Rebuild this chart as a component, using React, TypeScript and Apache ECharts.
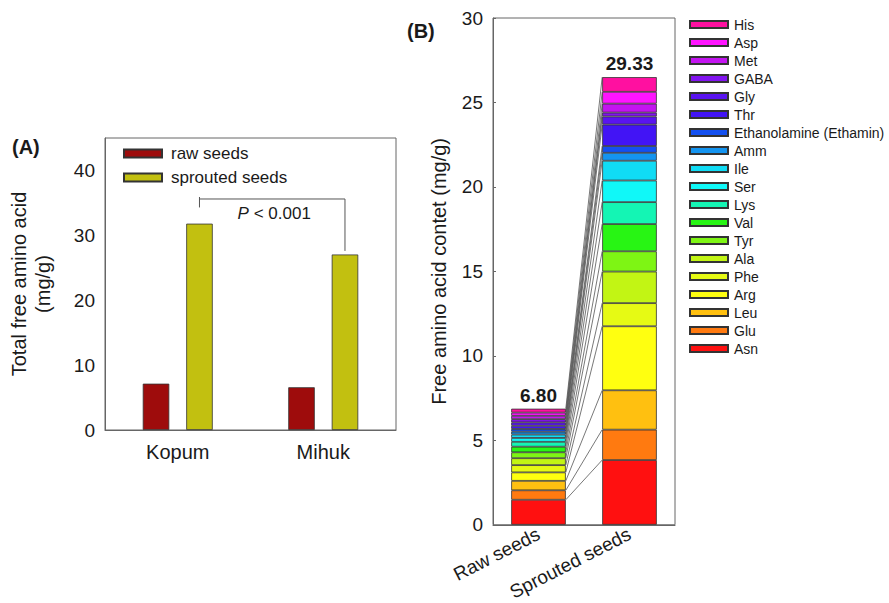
import React, { useEffect, useRef } from "react";
import * as echarts from "echarts";

// ---------- Panel A data ----------
const varieties = ["Kopum", "Mihuk"];
const rawSeeds = [7.14, 6.59];
const sproutedSeeds = [31.8, 27.05];
const bracketLevel = 35.6;
const bracketKopumEnd = 34.3;
const bracketMihukEnd = 27.6;
const pTextLevel = 33.3;
const pText = "P < 0.001";

// ---------- Panel B data ----------
const groups = ["Raw seeds", "Sprouted seeds"];
const aminoAcids = [
  "Asn", "Glu", "Leu", "Arg", "Phe", "Ala", "Tyr", "Val", "Lys", "Ser",
  "Ile", "Amm", "Ethanolamine (Ethamin)", "Thr", "Gly", "GABA", "Met", "Asp", "His",
];
const rawValues = [
  1.48, 0.56, 0.56, 0.5, 0.43, 0.41, 0.35, 0.33, 0.29, 0.23,
  0.2, 0.17, 0.16, 0.19, 0.2, 0.19, 0.2, 0.19, 0.23,
];
const sproutedValues = [
  3.83, 1.8, 2.33, 3.79, 1.37, 1.87, 1.2, 1.61, 1.3, 1.28,
  1.17, 0.47, 0.4, 1.27, 0.48, 0.23, 0.53, 0.7, 0.87,
];
const totalLabels = ["6.80", "29.33"];

const aaColors = [
  "#FF1010", "#FF7A10", "#FFC010", "#FFFF10", "#E6FA14", "#C2F514", "#7EF514",
  "#28F514", "#14F5B4", "#10F8F8", "#10DCF5", "#1494F0", "#1450F0", "#4214F5",
  "#5A14F0", "#8214F0", "#C314F0", "#FF14FF", "#FF10A0",
];

const FONT = "'Liberation Sans', Arial, Helvetica, sans-serif";
const TXT = "#1a1a1a";
const FRAME = "#666";
const BAR_W_A = 26.5;
const BAR_GAP_A = 0.64;

export default function App() {
  const ref = useRef<HTMLDivElement>(null);

  useEffect(() => {
    if (!ref.current) return;
    const chart = echarts.init(ref.current, null, { renderer: "svg" });

    const rawCum: number[] = [];
    const sprCum: number[] = [];
    let r = 0;
    let s = 0;
    for (let i = 0; i < aminoAcids.length; i++) {
      r += rawValues[i];
      s += sproutedValues[i];
      rawCum.push(r);
      sprCum.push(s);
    }
    const linkData = rawCum.map((v, i) => [0, v, sprCum[i]]);

    const stackSeries = aminoAcids.map((name, i) => ({
      type: "bar",
      name,
      stack: "B",
      xAxisIndex: 1,
      yAxisIndex: 1,
      barWidth: "60%",
      data: [rawValues[i], sproutedValues[i]],
      itemStyle: { color: aaColors[i], borderColor: "#333", borderWidth: 0.8 },
      label:
        i === aminoAcids.length - 1
          ? {
              show: true,
              position: "top",
              distance: 4,
              formatter: (p: any) => totalLabels[p.dataIndex],
              fontSize: 19,
              fontWeight: "bold",
              fontFamily: FONT,
              color: TXT,
            }
          : { show: false },
    }));

    const option: any = {
      animation: false,
      backgroundColor: "#fff",
      textStyle: { fontFamily: FONT },
      graphic: [
        {
          type: "text",
          left: 12,
          top: 137,
          style: { text: "(A)", fontSize: 20, fontWeight: "bold", fontFamily: FONT, fill: TXT },
        },
        {
          type: "text",
          left: 407,
          top: 21,
          style: { text: "(B)", fontSize: 20, fontWeight: "bold", fontFamily: FONT, fill: TXT },
        },
      ],
      legend: [
        {
          data: ["raw seeds", "sprouted seeds"],
          orient: "vertical",
          left: 118,
          top: 140,
          icon: "rect",
          itemWidth: 38,
          itemHeight: 8,
          itemGap: 7,
          textStyle: { fontSize: 17, lineHeight: 17, fontFamily: FONT, color: TXT, padding: [0, 0, 0, 4] },
        },
        {
          data: aminoAcids.slice().reverse(),
          orient: "vertical",
          left: 684,
          top: 12,
          icon: "rect",
          itemWidth: 38,
          itemHeight: 7,
          itemGap: 3,
          textStyle: { fontSize: 14, lineHeight: 15, fontFamily: FONT, color: TXT, padding: [0, 0, 0, 1] },
        },
      ],
      grid: [
        { left: 105, top: 138, width: 291, height: 292, show: true, borderColor: FRAME, borderWidth: 1 },
        { left: 493, top: 18, width: 182, height: 516, show: true, borderColor: FRAME, borderWidth: 1 },
      ],
      xAxis: [
        {
          type: "category",
          gridIndex: 0,
          data: varieties,
          axisTick: { show: false },
          axisLine: { lineStyle: { color: FRAME } },
          axisLabel: { fontSize: 20, margin: 12, color: TXT, fontFamily: FONT },
        },
        {
          type: "category",
          gridIndex: 1,
          data: groups,
          axisTick: { show: false },
          axisLine: { lineStyle: { color: FRAME } },
          axisLabel: { fontSize: 19, margin: 8, rotate: 27, color: TXT, fontFamily: FONT },
        },
      ],
      yAxis: [
        {
          type: "value",
          gridIndex: 0,
          min: 0,
          max: 45,
          interval: 10,
          splitLine: { show: false },
          axisLine: { show: true, lineStyle: { color: FRAME } },
          axisTick: { show: false },
          axisLabel: { fontSize: 19, margin: 10, color: TXT, fontFamily: FONT, showMaxLabel: false },
          name: "Total free amino acid\n(mg/g)",
          nameLocation: "middle",
          nameRotate: 90,
          nameGap: 50,
          nameTextStyle: { fontSize: 20, lineHeight: 24, color: TXT, fontFamily: FONT },
        },
        {
          type: "value",
          gridIndex: 1,
          min: 0,
          max: 30,
          interval: 5,
          splitLine: { show: false },
          axisLine: { show: true, lineStyle: { color: FRAME } },
          axisTick: { show: true, inside: true, length: 3, lineStyle: { color: FRAME } },
          axisLabel: { fontSize: 19, margin: 10, color: TXT, fontFamily: FONT },
          name: "Free amino acid contet (mg/g)",
          nameLocation: "middle",
          nameRotate: 90,
          nameGap: 44,
          nameTextStyle: { fontSize: 20, color: TXT, fontFamily: FONT },
        },
      ],
      series: [
        {
          type: "bar",
          name: "raw seeds",
          xAxisIndex: 0,
          yAxisIndex: 0,
          barWidth: BAR_W_A,
          barGap: BAR_GAP_A * 100 + "%",
          data: rawSeeds,
          itemStyle: { color: "#9E0C0C", borderColor: "#333", borderWidth: 0.8 },
        },
        {
          type: "bar",
          name: "sprouted seeds",
          xAxisIndex: 0,
          yAxisIndex: 0,
          barWidth: BAR_W_A,
          barGap: BAR_GAP_A * 100 + "%",
          data: sproutedSeeds,
          itemStyle: { color: "#C2C010", borderColor: "#333", borderWidth: 0.8 },
        },
        {
          type: "custom",
          name: "bracket",
          xAxisIndex: 0,
          yAxisIndex: 0,
          encode: { x: 0, y: 1 },
          data: [[0, bracketLevel, bracketKopumEnd, bracketMihukEnd, pTextLevel]],
          z: 5,
          renderItem: (_params: any, api: any) => {
            const off = (BAR_W_A * (1 + BAR_GAP_A)) / 2;
            const k = api.coord([0, api.value(1)]);
            const m = api.coord([1, api.value(1)]);
            const x1 = k[0] + off;
            const x2 = m[0] + off;
            const yTop = k[1];
            const yK = api.coord([0, api.value(2)])[1];
            const yM = api.coord([1, api.value(3)])[1];
            const yT = api.coord([0, api.value(4)])[1];
            return {
              type: "group",
              children: [
                {
                  type: "polyline",
                  shape: { points: [[x1, yK], [x1, yTop], [x2, yTop], [x2, yM]] },
                  style: { stroke: "#555", lineWidth: 1, fill: null },
                },
                {
                  type: "line",
                  shape: { x1: x1, y1: yTop - 2, x2: x1, y2: yTop },
                  style: { stroke: "#555", lineWidth: 1 },
                },
                {
                  type: "text",
                  x: (x1 + x2) / 2 + 2,
                  y: yT,
                  style: {
                    text: "{i|P}" + pText.slice(1),
                    rich: { i: { fontStyle: "italic", fontSize: 17, fontFamily: FONT, fill: TXT } },
                    fontSize: 17,
                    fontFamily: FONT,
                    fill: TXT,
                    align: "center",
                    verticalAlign: "middle",
                  },
                },
              ],
            };
          },
        },
        ...stackSeries,
        {
          type: "custom",
          name: "links",
          xAxisIndex: 1,
          yAxisIndex: 1,
          encode: { x: 0, y: 1 },
          data: linkData,
          z: 1,
          renderItem: (_params: any, api: any) => {
            const half = api.size([1, 0])[0] * 0.3;
            const a = api.coord([0, api.value(1)]);
            const b = api.coord([1, api.value(2)]);
            return {
              type: "line",
              shape: { x1: a[0] + half, y1: a[1], x2: b[0] - half, y2: b[1] },
              style: { stroke: "#555", lineWidth: 0.8 },
            };
          },
        },
      ],
    };

    chart.setOption(option);
    return () => chart.dispose();
  }, []);

  return (
    <div
      ref={ref}
      style={{ position: "absolute", left: 0, top: 0, width: 889, height: 603, background: "#fff" }}
    />
  );
}
